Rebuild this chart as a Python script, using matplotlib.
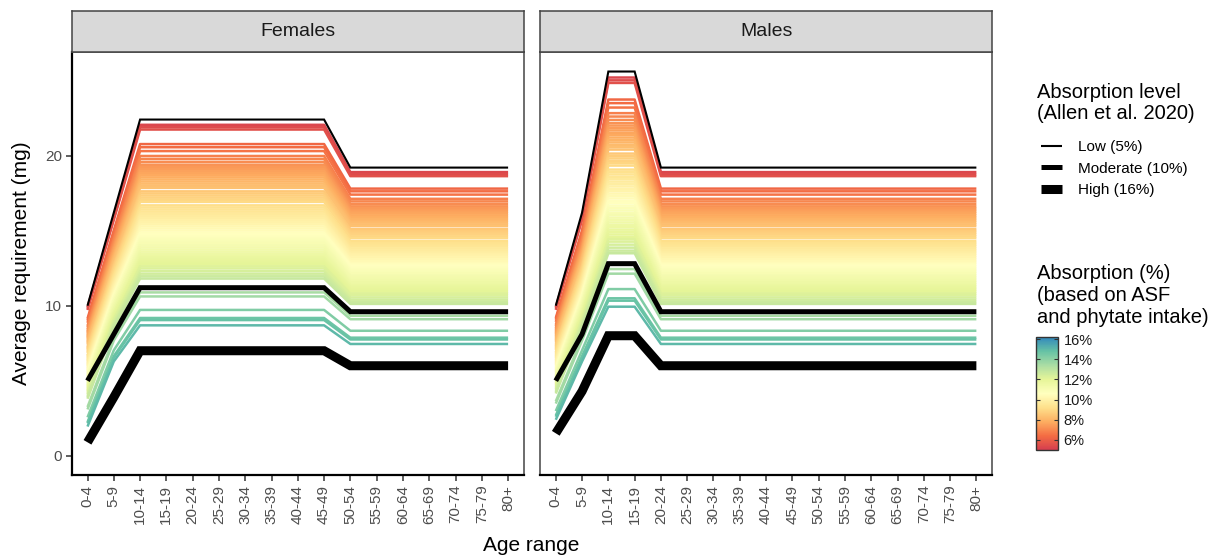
import numpy as np
import matplotlib
matplotlib.use('Agg')
import matplotlib.pyplot as plt
from matplotlib.colors import LinearSegmentedColormap, Normalize
from matplotlib.cm import ScalarMappable
from matplotlib.lines import Line2D

plt.rcParams['font.family'] = ['Liberation Sans', 'DejaVu Sans']

# --- data ---
age_groups = ['0-4', '5-9', '10-14', '15-19', '20-24', '25-29', '30-34', '35-39',
              '40-44', '45-49', '50-54', '55-59', '60-64', '65-69', '70-74', '75-79', '80+']

# Allen et al. 2020 reference levels (mg)
females_low = [10.0, 16.2, 22.4, 22.4, 22.4, 22.4, 22.4, 22.4, 22.4, 22.4,
               19.2, 19.2, 19.2, 19.2, 19.2, 19.2, 19.2]
females_mod = [5.0, 8.1, 11.2, 11.2, 11.2, 11.2, 11.2, 11.2, 11.2, 11.2,
               9.6, 9.6, 9.6, 9.6, 9.6, 9.6, 9.6]
females_high = [0.9, 3.9, 7.0, 7.0, 7.0, 7.0, 7.0, 7.0, 7.0, 7.0,
                6.0, 6.0, 6.0, 6.0, 6.0, 6.0, 6.0]
males_low = [10.0, 16.2, 25.6, 25.6, 19.2, 19.2, 19.2, 19.2, 19.2, 19.2,
             19.2, 19.2, 19.2, 19.2, 19.2, 19.2, 19.2]
males_mod = [5.0, 8.1, 12.8, 12.8, 9.6, 9.6, 9.6, 9.6, 9.6, 9.6,
             9.6, 9.6, 9.6, 9.6, 9.6, 9.6, 9.6]
males_high = [1.5, 4.3, 8.0, 8.0, 6.0, 6.0, 6.0, 6.0, 6.0, 6.0,
              6.0, 6.0, 6.0, 6.0, 6.0, 6.0, 6.0]

# absorption (%) of each coloured line
line_absorption = [5.30, 5.42, 5.53, 6.23, 6.38, 6.57, 6.81, 6.95, 7.10, 7.23,
                   7.33, 7.43, 7.54, 7.64, 7.74, 7.84, 7.94, 8.04, 8.15, 8.25,
                   8.35, 8.52, 8.62, 8.72, 8.82, 8.93, 9.03, 9.20, 9.30, 9.40,
                   9.50, 9.60, 9.70, 9.81, 9.91, 10.01, 10.11, 10.21, 10.31, 10.42,
                   10.52, 10.62, 10.72, 10.82, 10.92, 11.03, 11.13, 11.23, 11.33, 11.43,
                   11.53, 11.64, 11.74, 11.84, 11.94, 12.04, 12.14, 12.25, 12.37, 12.50,
                   12.63, 12.74, 13.41, 13.60, 14.25, 14.64, 14.74, 15.00]
# requirement of each coloured line for adults (women 50+, men 20+), mg
line_adult = [18.90, 18.76, 18.63, 17.80, 17.62, 17.40, 17.12, 16.95, 16.78, 16.62,
              16.50, 16.38, 16.26, 16.14, 16.02, 15.90, 15.78, 15.66, 15.54, 15.42,
              15.30, 15.10, 14.98, 14.86, 14.74, 14.62, 14.50, 14.30, 14.18, 14.06,
              13.94, 13.82, 13.70, 13.58, 13.46, 13.34, 13.22, 13.10, 12.98, 12.86,
              12.74, 12.62, 12.50, 12.38, 12.26, 12.14, 12.02, 11.90, 11.78, 11.66,
              11.54, 11.42, 11.30, 11.18, 11.06, 10.94, 10.82, 10.70, 10.55, 10.40,
              10.25, 10.12, 9.33, 9.10, 8.33, 7.87, 7.75, 7.45]
# requirement of each coloured line at age 0-4, mg
line_0_4_f = [9.90, 9.80, 9.71, 9.14, 9.01, 8.86, 8.66, 8.55, 8.42, 8.32,
              8.24, 8.15, 8.06, 7.98, 7.90, 7.82, 7.74, 7.65, 7.56, 7.48,
              7.40, 7.26, 7.18, 7.10, 7.01, 6.92, 6.84, 6.70, 6.62, 6.54,
              6.46, 6.37, 6.29, 6.20, 6.12, 6.04, 5.96, 5.87, 5.79, 5.70,
              5.62, 5.54, 5.46, 5.37, 5.29, 5.20, 5.12, 5.04, 4.96, 4.87,
              4.79, 4.70, 4.62, 4.54, 4.46, 4.37, 4.29, 4.20, 4.10, 3.99,
              3.89, 3.80, 3.25, 3.09, 2.56, 2.24, 2.16, 1.95]
line_0_4_m = [9.90, 9.81, 9.72, 9.18, 9.07, 8.92, 8.73, 8.62, 8.51, 8.41,
              8.33, 8.25, 8.17, 8.09, 8.01, 7.94, 7.86, 7.78, 7.70, 7.62,
              7.54, 7.41, 7.33, 7.26, 7.18, 7.09, 7.02, 6.89, 6.81, 6.73,
              6.65, 6.58, 6.50, 6.41, 6.34, 6.26, 6.18, 6.10, 6.03, 5.94,
              5.86, 5.79, 5.71, 5.63, 5.56, 5.47, 5.39, 5.32, 5.24, 5.16,
              5.08, 5.00, 4.92, 4.84, 4.77, 4.69, 4.61, 4.53, 4.43, 4.33,
              4.23, 4.15, 3.63, 3.48, 2.98, 2.68, 2.60, 2.40]

# --- style ---
spectral9 = ['#D53E4F', '#F46D43', '#FDAE61', '#FEE08B', '#FFFFBF',
             '#E6F598', '#ABDDA4', '#66C2A5', '#3288BD']
cmap = LinearSegmentedColormap.from_list('spectral9', spectral9)
norm = Normalize(5.0, 16.2)
x = np.arange(len(age_groups))
lw_levels = [1.5, 3.6, 6.5]

fig = plt.figure(figsize=(12.22, 5.58), dpi=100)

panels = [
    ('Females', 0.0587, females_low, females_mod, females_high, line_0_4_f),
    ('Males', 0.4419, males_low, males_mod, males_high, line_0_4_m),
]
pw, pb, ph = 0.370, 0.1487, 0.7581

for i, (name, x0, low, mod, high, y04) in enumerate(panels):
    ax = fig.add_axes([x0, pb, pw, ph])
    low_arr = np.array(low)
    scale = low_arr / low_arr[-1]
    for a, adult, v04 in zip(line_absorption, line_adult, y04):
        y = adult * scale
        y[0] = v04
        ax.plot(x, y, color=cmap(norm(a)), lw=1.8, solid_capstyle='butt', zorder=2)
    for vals, lw in zip([low, mod, high], lw_levels):
        ax.plot(x, vals, color='black', lw=lw, solid_joinstyle='miter',
                solid_capstyle='butt', zorder=3)

    ax.set_xlim(-0.6, 16.6)
    ax.set_ylim(-1.28, 26.9)
    ax.set_xticks(x)
    ax.set_xticklabels(age_groups, rotation=90)
    ax.set_yticks([0, 10, 20])
    ax.tick_params(axis='both', length=4, width=1.1, color='#333333',
                   labelsize=11, labelcolor='#4d4d4d', pad=3)
    for s in ax.spines.values():
        s.set_color('#444444')
        s.set_linewidth(1.1)
    ax.spines['bottom'].set_color('black')
    ax.spines['bottom'].set_linewidth(1.6)
    if i == 0:
        ax.spines['left'].set_color('black')
        ax.spines['left'].set_linewidth(1.6)
    else:
        ax.tick_params(axis='y', left=False, labelleft=False)

    # facet strip
    st = fig.add_axes([x0, pb + ph, pw, 0.0735])
    st.set_facecolor('#d9d9d9')
    st.set_xticks([])
    st.set_yticks([])
    for s in st.spines.values():
        s.set_color('#444444')
        s.set_linewidth(1.1)
    st.text(0.5, 0.5, name, ha='center', va='center', fontsize=14, color='#1a1a1a',
            transform=st.transAxes)

fig.text(0.018, 0.528, 'Average requirement (mg)', rotation=90, ha='center',
         va='center', fontsize=15)
fig.text(0.435, 0.022, 'Age range', ha='center', va='center', fontsize=15)

# legend for reference levels
fig.text(0.849, 0.851, 'Absorption level\n(Allen et al. 2020)', ha='left', va='top',
         fontsize=14.5, linespacing=1.15)
handles = [Line2D([], [], color='black', lw=lw, solid_capstyle='butt') for lw in lw_levels]
fig.legend(handles, ['Low (5%)', 'Moderate (10%)', 'High (16%)'],
           loc='upper left', bbox_to_anchor=(0.843, 0.768), frameon=False, fontsize=11,
           handlelength=1.4, handletextpad=1.0, labelspacing=0.5, borderpad=0.2)

# colour bar
fig.text(0.849, 0.527, 'Absorption (%)\n(based on ASF\nand phytate intake)', ha='left',
         va='top', fontsize=14.5, linespacing=1.2)
cax = fig.add_axes([0.8478, 0.1935, 0.018, 0.2025])
cb = fig.colorbar(ScalarMappable(norm=norm, cmap=cmap), cax=cax)
cb.set_ticks([6, 8, 10, 12, 14, 16])
cb.set_ticklabels(['6%', '8%', '10%', '12%', '14%', '16%'])
cb.outline.set_edgecolor('#333333')
cb.outline.set_linewidth(1.0)
cax.tick_params(axis='y', direction='in', left=True, right=True, length=3,
                width=0.8, color='#333333', labelsize=10.5, labelcolor='#1a1a1a', pad=4)

fig.savefig('out.png', dpi=100)
